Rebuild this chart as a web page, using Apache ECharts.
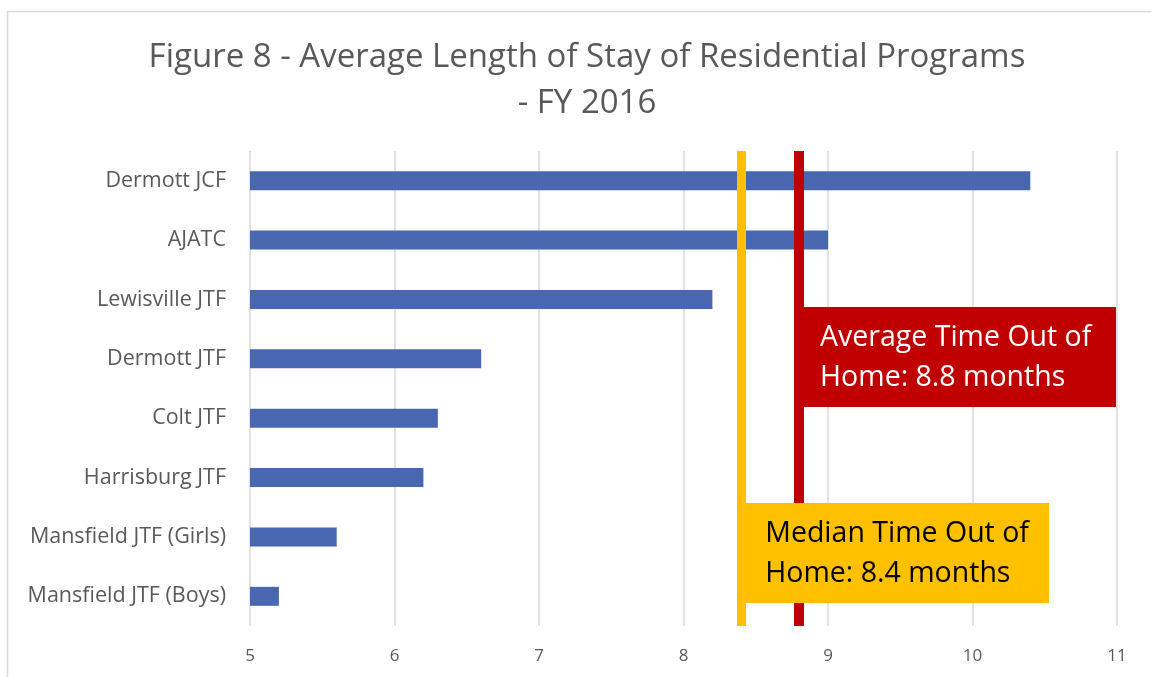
<!DOCTYPE html>
<html>
<head>
<meta charset="utf-8">
<script src="https://cdn.jsdelivr.net/npm/echarts@6/dist/echarts.min.js"></script>
<style>
  html, body { margin: 0; padding: 0; background: #fff; }
  #chart { width: 1151px; height: 677px; }
</style>
</head>
<body>
<div id="chart"></div>
<script>
// data, bottom to top as ECharts draws categories
const programs = [
  'Mansfield JTF (Boys)',
  'Mansfield JTF (Girls)',
  'Harrisburg JTF',
  'Colt JTF',
  'Dermott JTF',
  'Lewisville JTF',
  'AJATC',
  'Dermott JCF'
]
const stayMonths = [5.2, 5.6, 6.2, 6.3, 6.6, 8.2, 9.0, 10.4]
const xTicks = [5, 6, 7, 8, 9, 10, 11]
const medianMonths = 8.4
const averageMonths = 8.8

const fontFamily = '"Open Sans", "Noto Sans", sans-serif'
const chart = echarts.init(document.getElementById('chart'))

const option = {
  animation: false,
  textStyle: { fontFamily },
  title: {
    text: 'Figure 8 - Average Length of Stay of Residential Programs\n- FY 2016',
    left: 582,
    top: 30,
    textAlign: 'center',
    textStyle: { fontSize: 33, fontWeight: 'normal', color: '#595959', lineHeight: 46, fontFamily }
  },
  grid: { left: 250, right: 34, top: 151, bottom: 51 },
  xAxis: {
    type: 'value',
    min: xTicks[0],
    max: xTicks[xTicks.length - 1],
    interval: 1,
    axisLine: { show: false },
    axisTick: { show: false },
    splitLine: { lineStyle: { color: '#d9d9d9', width: 1.5 } },
    axisLabel: { color: '#595959', fontSize: 17, margin: 22 }
  },
  yAxis: {
    type: 'category',
    data: programs,
    axisLine: { show: false },
    axisTick: { show: false },
    axisLabel: { color: '#595959', fontSize: 21.5, margin: 24 }
  },
  series: [
    {
      type: 'bar',
      data: stayMonths,
      barWidth: 19,
      itemStyle: { color: '#4967b0' },
      markLine: {
        silent: true,
        symbol: 'none',
        label: { show: false },
        data: [
          { xAxis: medianMonths, lineStyle: { color: '#ffc000', width: 9, type: 'solid' } },
          { xAxis: averageMonths, lineStyle: { color: '#c00000', width: 10, type: 'solid' } }
        ]
      }
    }
  ]
}
chart.setOption(option)

// annotation boxes anchored to the average and median lines
const avgX = chart.convertToPixel({ xAxisIndex: 0 }, averageMonths)
const medX = chart.convertToPixel({ xAxisIndex: 0 }, medianMonths)
const boxFont = '28.5px ' + fontFamily

chart.setOption({
  graphic: [
    {
      type: 'rect',
      left: 5, top: 9,
      shape: { width: 1200, height: 700 },
      style: { fill: 'none', stroke: '#d9d9d9', lineWidth: 1.5 },
      z: 0
    },
    {
      type: 'rect',
      left: avgX, top: 307,
      shape: { width: 1116 - avgX, height: 100 },
      style: { fill: '#c00000' },
      z: 10
    },
    {
      type: 'text',
      left: avgX + 21, top: 318,
      style: { text: 'Average Time Out of\nHome: 8.8 months', fill: '#fff', font: boxFont, lineHeight: 40 },
      z: 11
    },
    {
      type: 'rect',
      left: medX, top: 503,
      shape: { width: 1049 - medX, height: 100 },
      style: { fill: '#ffc000' },
      z: 12
    },
    {
      type: 'text',
      left: medX + 24, top: 514,
      style: { text: 'Median Time Out of\nHome: 8.4 months', fill: '#000', font: boxFont, lineHeight: 40 },
      z: 13
    }
  ]
})
</script>
</body>
</html>
